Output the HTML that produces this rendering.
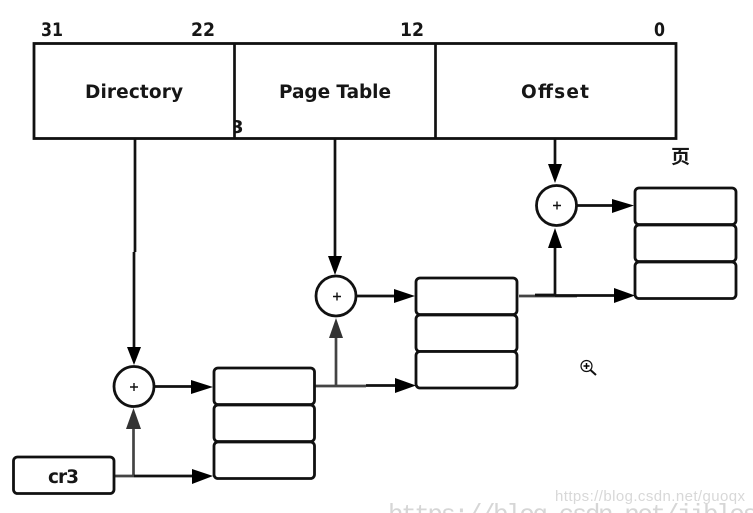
<!DOCTYPE html>
<html>
<head>
<meta charset="utf-8">
<style>
html,body{margin:0;padding:0;background:#fff;width:753px;height:513px;overflow:hidden}
svg{display:block;filter:blur(0.35px)}
text{font-family:"DejaVu Sans","Liberation Sans","Noto Sans CJK SC",sans-serif;fill:#161616}
.l{font-size:18.500px;font-weight:bold}
.n{font-size:19px;font-weight:bold}
.w{fill:none;stroke:#111;stroke-width:2.700}
.g{fill:none;stroke:#444;stroke-width:2.700}
.b{fill:#fff;stroke:#111;stroke-width:2.800}
</style>
</head>
<body>
<svg width="753" height="513" viewBox="0 0 753 513" xmlns="http://www.w3.org/2000/svg">
<defs><clipPath id="c3"><rect x="235" y="110" width="20" height="28"/></clipPath></defs>
<text class="n" x="41" y="36" textLength="22" lengthAdjust="spacingAndGlyphs">31</text>
<text class="n" x="191" y="36" textLength="24" lengthAdjust="spacingAndGlyphs">22</text>
<text class="n" x="400" y="36" textLength="24" lengthAdjust="spacingAndGlyphs">12</text>
<text class="n" x="654" y="36" textLength="11" lengthAdjust="spacingAndGlyphs">0</text>
<text class="n" x="671" y="163" style="font-size:19px;font-family:'Noto Sans CJK SC',sans-serif">页</text>
<rect x="34" y="43.500" width="642" height="95" fill="none" stroke="#111" stroke-width="2.800"/>
<text class="n" x="231" y="133" clip-path="url(#c3)" style="font-size:18px">3</text>
<line class="w" x1="234.500" y1="43" x2="234.500" y2="139"/>
<line class="w" x1="435.500" y1="43" x2="435.500" y2="139"/>
<text class="l" x="85" y="98" textLength="98" lengthAdjust="spacing">Directory</text>
<text class="l" x="279" y="98" textLength="112" lengthAdjust="spacing">Page Table</text>
<text class="l" x="521" y="98" textLength="68" lengthAdjust="spacing">Offset</text>

<!-- connectors -->
<line class="w" x1="135" y1="139" x2="135" y2="252"/>
<line class="w" x1="134" y1="252" x2="134" y2="350"/>
<polygon points="127,347 141,347 134,365" fill="#000"/>
<line class="w" x1="335" y1="139" x2="335" y2="258"/>
<polygon points="328,256 342,256 335,275" fill="#000"/>
<line class="w" x1="555" y1="139" x2="555" y2="168"/>
<polygon points="548,164 562,164 555,183" fill="#000"/>

<line class="w" x1="154" y1="386.500" x2="195" y2="386.500"/>
<polygon points="191,380 191,394 213,387" fill="#000"/>
<line class="w" x1="356" y1="296" x2="398" y2="296"/>
<polygon points="394,289 394,303 415,296" fill="#000"/>
<line class="w" x1="577" y1="205.500" x2="616" y2="205.500"/>
<polygon points="612,199 612,213 634,205.500" fill="#000"/>

<line class="g" x1="133.500" y1="476" x2="133.500" y2="425"/>
<polygon points="126,429 141,429 133.500,408" fill="#333"/>
<line class="g" x1="114" y1="476" x2="134" y2="476"/>
<line class="w" x1="134" y1="476" x2="196" y2="476"/>
<polygon points="192,469 192,484 213,476" fill="#000"/>

<line class="g" x1="336" y1="386" x2="336" y2="335"/>
<polygon points="329,338 343,338 336,318" fill="#333"/>
<line class="g" x1="315" y1="386" x2="366" y2="386"/>
<line class="w" x1="366" y1="385.500" x2="398" y2="385.500"/>
<polygon points="395,378 395,393 416,385.500" fill="#000"/>

<line class="w" x1="555" y1="296" x2="555" y2="245"/>
<polygon points="548,248 562,248 555,228" fill="#000"/>
<line class="g" x1="519" y1="296" x2="577" y2="296"/>
<line class="w" x1="535" y1="295" x2="555" y2="295"/>
<line class="w" x1="555" y1="295.500" x2="616" y2="295.500"/>
<polygon points="614,288 614,303 635,295.500" fill="#000"/>

<!-- circles -->
<circle class="b" cx="134" cy="386.500" r="20"/>
<circle class="b" cx="336" cy="296" r="20"/>
<circle class="b" cx="556.500" cy="205.500" r="20"/>
<path d="M130 387h8M134 383v8M333 296.500h8M337 292.500v8M553 205.500h8M557 201.500v8" stroke="#111" stroke-width="1.400" fill="none"/>

<!-- stacks -->
<rect class="b" x="214" y="368" width="100.500" height="36.500" rx="4"/>
<rect class="b" x="214" y="405" width="100.500" height="36.500" rx="4"/>
<rect class="b" x="214" y="442" width="100.500" height="36.500" rx="4"/>
<rect class="b" x="416" y="278" width="101" height="36.500" rx="4"/>
<rect class="b" x="416" y="315" width="101" height="36.500" rx="4"/>
<rect class="b" x="416" y="351.500" width="101" height="36.500" rx="4"/>
<rect class="b" x="635" y="188" width="101" height="36.500" rx="4"/>
<rect class="b" x="635" y="225" width="101" height="36.500" rx="4"/>
<rect class="b" x="635" y="262" width="101" height="36.500" rx="4"/>
<rect class="b" x="13.500" y="457" width="100.500" height="36.500" rx="4"/>
<text class="l" x="48" y="483" textLength="31" lengthAdjust="spacing">cr3</text>

<!-- cursor icon -->
<circle cx="586.500" cy="366" r="5.500" fill="#fff" stroke="#111" stroke-width="1.200"/>
<path d="M583.500 366h6M586.500 363v6" stroke="#000" stroke-width="1.500"/>
<line x1="590.500" y1="370" x2="596" y2="375" stroke="#111" stroke-width="2"/>

<!-- watermarks -->
<text x="388" y="522" style="font-family:'Liberation Mono',monospace;font-size:26px;fill:#d6d6d6" textLength="370" lengthAdjust="spacing">https://blog.csdn.net/jibles</text>
<text x="555" y="501" style="font-family:'Liberation Sans',sans-serif;font-size:15px;fill:#d8d8d8" textLength="190" lengthAdjust="spacing">https://blog.csdn.net/guoqx</text>
</svg>
</body>
</html>
